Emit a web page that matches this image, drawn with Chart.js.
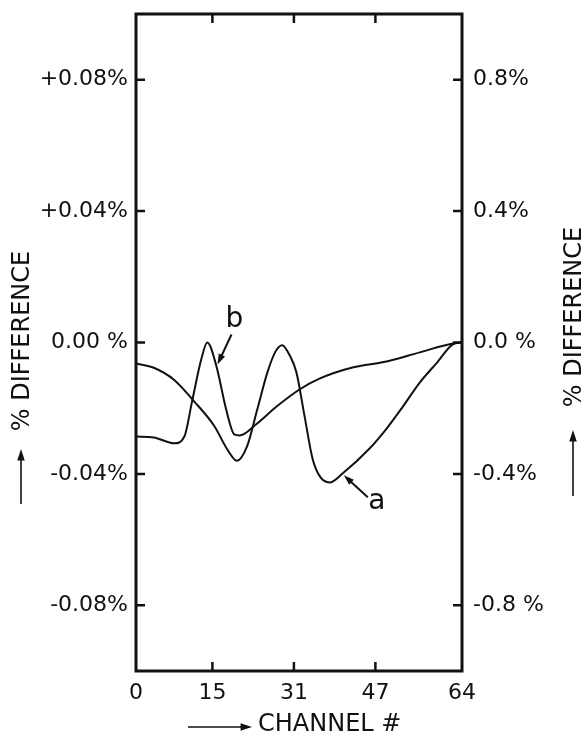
<!DOCTYPE html>
<html>
<head>
<meta charset="utf-8">
<script src="https://cdn.jsdelivr.net/npm/chart.js@4/dist/chart.umd.min.js"></script>
<style>
  html, body { margin: 0; padding: 0; background: #fff; }
  #wrap { width: 584px; height: 734px; }
</style>
</head>
<body>
<div id="wrap"><canvas id="c" width="584" height="734"></canvas></div>
<script>
// Channel tick values and axis labels
const channelTicks = [0, 15, 31, 47, 64];
const leftTicks = [-0.08, -0.04, 0, 0.04, 0.08];
const leftTickLabels = ['-0.08%', '-0.04%', '0.00 %', '+0.04%', '+0.08%'];
const rightTicks = [-0.8, -0.4, 0, 0.4, 0.8];
const rightTickLabels = ['-0.8 %', '-0.4%', '0.0 %', '0.4%', '0.8%'];

// Curve a: percent difference per channel
const aChannel = [0, 3.5, 7.5, 11.4, 15.4, 17.9, 19.8, 21.8, 23.8, 25.8, 27.4, 28.7, 30.2, 31.5, 33.1, 34.7, 36.2, 38.0, 40.6, 45.9, 49.2, 52.4, 55.7, 59.1, 62.2, 64];
const aDiff = [-0.0064, -0.0077, -0.0114, -0.0179, -0.0255, -0.0325, -0.0360, -0.0316, -0.0204, -0.0091, -0.0027, -0.0008, -0.0040, -0.0091, -0.0225, -0.0356, -0.0410, -0.0426, -0.0398, -0.0322, -0.0262, -0.0195, -0.0122, -0.0061, -0.0006, 0];

// Curve b: percent difference per channel
const bChannel = [0, 3.5, 7.5, 9.5, 11.0, 12.8, 14.0, 15.8, 17.7, 19.3, 20.3, 23.6, 27.6, 32.1, 36.0, 42.5, 49.2, 55.7, 62.2, 64];
const bDiff = [-0.0286, -0.0289, -0.0307, -0.0286, -0.0180, -0.0052, 0.0000, -0.0073, -0.0204, -0.0280, -0.0283, -0.0249, -0.0195, -0.0143, -0.0110, -0.0076, -0.0058, -0.0030, -0.0003, 0];

const FONT = '"DejaVu Sans", sans-serif';
const INK = '#111';

const toPoints = (xs, ys) => xs.map((x, i) => ({ x: x, y: ys[i] }));

function arrow(ctx, x1, y1, x2, y2, head, width) {
  const ang = Math.atan2(y2 - y1, x2 - x1);
  ctx.save();
  ctx.strokeStyle = INK;
  ctx.fillStyle = INK;
  ctx.lineWidth = width;
  ctx.beginPath();
  ctx.moveTo(x1, y1);
  ctx.lineTo(x2 - Math.cos(ang) * head * 0.8, y2 - Math.sin(ang) * head * 0.8);
  ctx.stroke();
  ctx.beginPath();
  ctx.moveTo(x2, y2);
  ctx.lineTo(x2 - head * Math.cos(ang - 0.32), y2 - head * Math.sin(ang - 0.32));
  ctx.lineTo(x2 - head * Math.cos(ang + 0.32), y2 - head * Math.sin(ang + 0.32));
  ctx.closePath();
  ctx.fill();
  ctx.restore();
}

// Frame with inward tick marks on all four sides
const framePlugin = {
  id: 'frame',
  afterDatasetsDraw(chart) {
    const { ctx, chartArea: a, scales } = chart;
    const len = 9;
    ctx.save();
    ctx.strokeStyle = INK;
    ctx.lineWidth = 2.5;
    ctx.beginPath();
    channelTicks.slice(1, -1).forEach(v => {
      const x = scales.x.getPixelForValue(v);
      ctx.moveTo(x, a.bottom); ctx.lineTo(x, a.bottom - len);
      ctx.moveTo(x, a.top); ctx.lineTo(x, a.top + len);
    });
    leftTicks.forEach(v => {
      const y = scales.y.getPixelForValue(v);
      ctx.moveTo(a.left, y); ctx.lineTo(a.left + len, y);
    });
    rightTicks.forEach(v => {
      const y = scales.y2.getPixelForValue(v);
      ctx.moveTo(a.right, y); ctx.lineTo(a.right - len, y);
    });
    ctx.stroke();
    ctx.lineWidth = 3;
    ctx.strokeRect(a.left, a.top, a.right - a.left, a.bottom - a.top);
    ctx.restore();
  }
};

// Axis titles with arrows, and the a / b curve markers
const labelPlugin = {
  id: 'labels',
  afterDraw(chart) {
    const { ctx, scales } = chart;
    ctx.save();
    ctx.fillStyle = INK;

    // left title
    ctx.font = '24px ' + FONT;
    ctx.textAlign = 'center';
    ctx.textBaseline = 'middle';
    ctx.save();
    ctx.translate(23, 341);
    ctx.rotate(-Math.PI / 2);
    ctx.fillText('% DIFFERENCE', 0, 0);
    ctx.restore();
    arrow(ctx, 21, 504, 21, 449, 12, 1.6);

    // right title
    ctx.save();
    ctx.translate(575, 317);
    ctx.rotate(-Math.PI / 2);
    ctx.fillText('% DIFFERENCE', 0, 0);
    ctx.restore();
    arrow(ctx, 573, 496, 573, 430, 12, 1.6);

    // bottom title
    ctx.textAlign = 'left';
    ctx.fillText('CHANNEL #', 258, 725);
    arrow(ctx, 188, 727, 252, 727, 12, 1.6);

    // curve markers
    const bx = scales.x.getPixelForValue(bChannel[7]);
    const by = scales.y.getPixelForValue(bDiff[7]);
    arrow(ctx, bx + 15, by - 32, bx + 1, by - 2, 11, 2);
    ctx.font = '28px ' + FONT;
    ctx.textAlign = 'center';
    ctx.fillText('b', bx + 18, by - 47);

    const ax = scales.x.getPixelForValue(aChannel[18]);
    const ay = scales.y.getPixelForValue(aDiff[18]);
    arrow(ctx, ax + 25, ay + 24, ax + 1, ay + 2, 11, 2);
    ctx.fillText('a', ax + 34, ay + 28);
    ctx.restore();
  }
};

const tickFont = { family: FONT, size: 22 };

// vertical axes: fixed widths, no extra label overhang padding
const fitVertical = w => s => { s.width = w; s.paddingTop = 0; s.paddingBottom = 0; };

new Chart(document.getElementById('c'), {
  type: 'line',
  data: {
    datasets: [
      { label: 'a', data: toPoints(aChannel, aDiff), yAxisID: 'y' },
      { label: 'b', data: toPoints(bChannel, bDiff), yAxisID: 'y' }
    ]
  },
  options: {
    responsive: false,
    animation: false,
    devicePixelRatio: 1,
    layout: { padding: { top: 14, left: 0, right: 0, bottom: 0 } },
    elements: {
      line: { borderColor: INK, borderWidth: 2, cubicInterpolationMode: 'monotone', fill: false },
      point: { radius: 0 }
    },
    plugins: { legend: { display: false }, tooltip: { enabled: false } },
    scales: {
      x: {
        type: 'linear', position: 'bottom', min: 0, max: 64,
        afterBuildTicks: s => { s.ticks = channelTicks.map(v => ({ value: v })); },
        afterFit: s => { s.height = 63; s.paddingLeft = 0; s.paddingRight = 0; },
        grid: { display: false, drawTicks: false },
        border: { display: false },
        ticks: { font: tickFont, color: INK, padding: 9, maxRotation: 0, callback: v => String(v) }
      },
      y: {
        type: 'linear', position: 'left', min: -0.1, max: 0.1,
        afterBuildTicks: s => { s.ticks = leftTicks.map(v => ({ value: v })); },
        afterFit: fitVertical(136),
        grid: { display: false, drawTicks: false },
        border: { display: false },
        ticks: { font: tickFont, color: INK, padding: 8,
          callback: v => leftTickLabels[leftTicks.findIndex(t => Math.abs(t - v) < 1e-9)] }
      },
      y2: {
        type: 'linear', position: 'right', min: -1, max: 1,
        afterBuildTicks: s => { s.ticks = rightTicks.map(v => ({ value: v })); },
        afterFit: fitVertical(122),
        grid: { display: false, drawTicks: false },
        border: { display: false },
        ticks: { font: tickFont, color: INK, padding: 11,
          callback: v => rightTickLabels[rightTicks.findIndex(t => Math.abs(t - v) < 1e-9)] }
      }
    }
  },
  plugins: [framePlugin, labelPlugin]
});
</script>
</body>
</html>
